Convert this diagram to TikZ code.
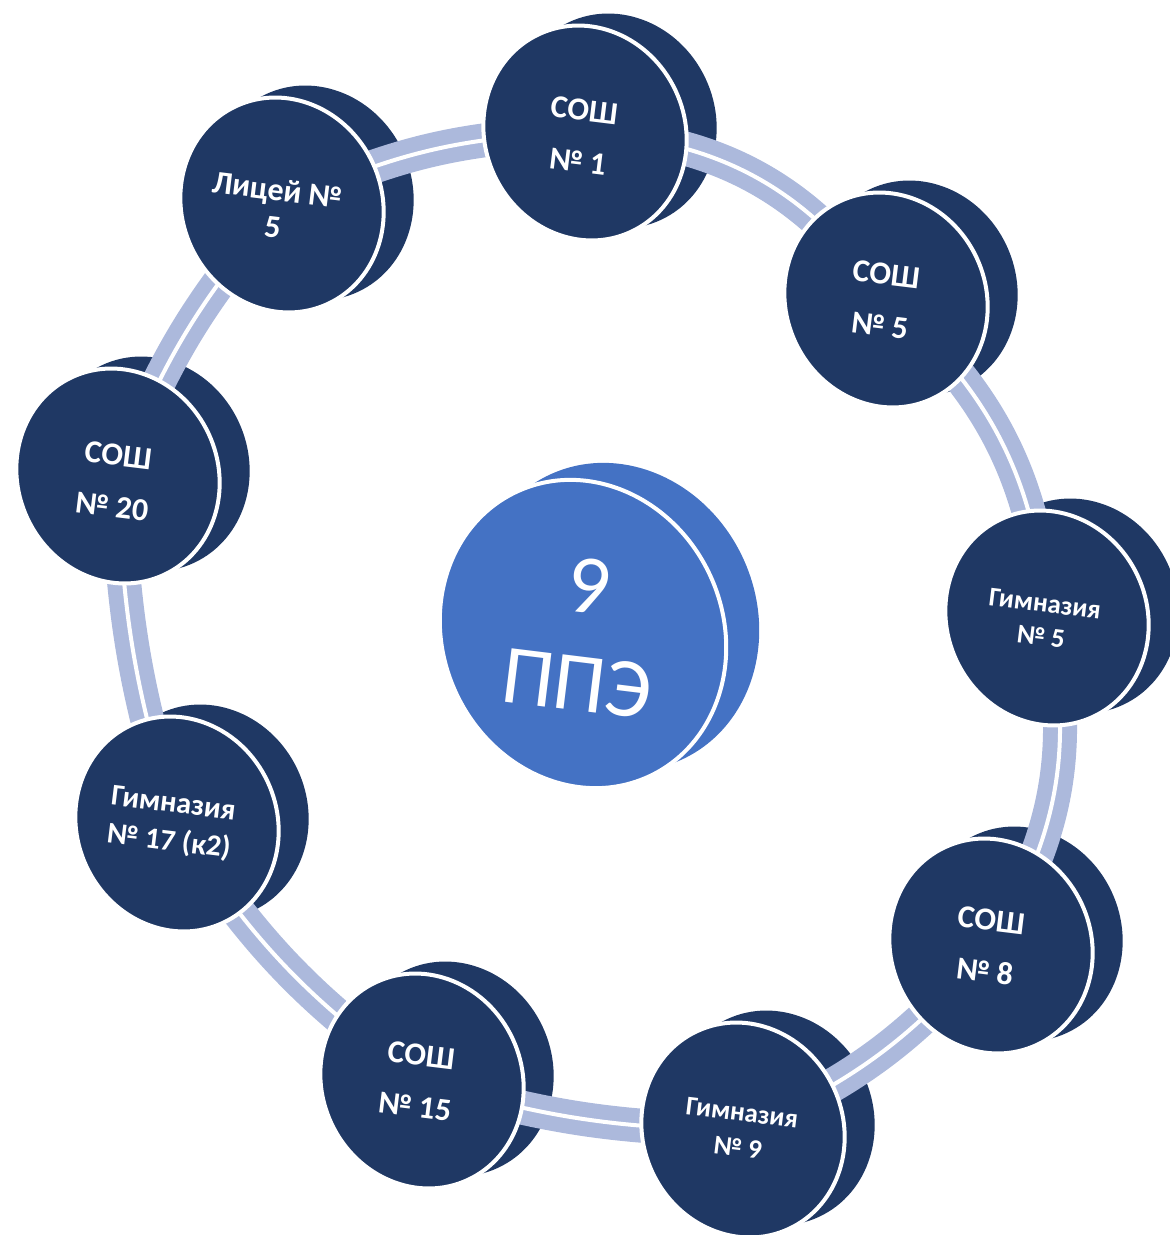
\documentclass[tikz,border=0pt]{standalone}
\usepackage{fontspec}
\setmainfont{Carlito}
\usetikzlibrary{shapes.geometric}
\definecolor{schoolblue}{HTML}{1F3864}
\definecolor{ppeblue}{HTML}{4472C4}
\definecolor{ringblue}{HTML}{ACB9DC}
\pgfdeclarelayer{back}
\pgfdeclarelayer{mid}
\pgfsetlayers{back,mid,main}

\begin{document}
\begin{tikzpicture}[x=0.5pt,y=-0.5pt,
  school/.style={ellipse, fill=schoolblue, draw=white, line width=2pt, inner sep=0pt,
    minimum width=100pt, minimum height=109pt, rotate=25},
  ppe/.style={school, fill=ppeblue, minimum width=140pt, minimum height=157pt},
  disctext/.style={text=white, align=center, rotate=-7, inner sep=0pt, font=\bfseries\fontsize{16}{26}\selectfont},
  ring/.style={draw=ringblue, line width=7.5pt, double=white, double distance=2pt}]
  \useasboundingbox (0,0) rectangle (1170,1235);

  % front faces
  \node[school] (sosh1) at (585,133) {};
  \node[school] (sosh5) at (886,300) {};
  \node[school] (gym5) at (1047,618) {};
  \node[school] (sosh8) at (991,946) {};
  \node[school] (gym9) at (743,1130) {};
  \node[school] (sosh15) at (422,1081) {};
  \node[school] (gym17) at (177,824) {};
  \node[school] (sosh20) at (118,476) {};
  \node[school] (lyc5) at (282,205) {};
  \node[ppe] (ppe) at (583,634) {};

  \node[disctext] (sosh1-text) at ([shift={(-4,3)}]sosh1) {СОШ\\№ 1};
  \node[disctext] (sosh5-text) at ([shift={(-3,0)}]sosh5) {СОШ\\№ 5};
  \node[disctext, font=\bfseries\fontsize{13.5}{16.5}\selectfont] (gym5-text) at ([shift={(-4,2)}]gym5) {Гимназия\\№ 5};
  \node[disctext] (sosh8-text) at ([shift={(-3,0)}]sosh8) {СОШ\\№ 8};
  \node[disctext, font=\bfseries\fontsize{13.5}{17.5}\selectfont] (gym9-text) at ([shift={(-3,0)}]gym9) {Гимназия\\№ 9};
  \node[disctext] (sosh15-text) at ([shift={(-4,0)}]sosh15) {СОШ\\№ 15};
  \node[disctext, font=\bfseries\fontsize{15}{19}\selectfont] (gym17-text) at ([shift={(-6,0)}]gym17) {Гимназия\\№ 17 (к2)};
  \node[disctext] (sosh20-text) at ([shift={(-3,5)}]sosh20) {СОШ\\№ 20};
  \node[disctext, font=\bfseries\fontsize{16}{18.5}\selectfont] (lyc5-text) at ([shift={(-7,3)}]lyc5) {Лицей №\\5};
  \node[disctext, font=\fontsize{42}{49}\selectfont] (ppe-text) at ([shift={(0,1)}]ppe) {9\\ППЭ};

  % back faces
  \begin{pgfonlayer}{back}
    \foreach \n in {sosh1,sosh5,gym5,sosh8,gym9,sosh15,gym17,sosh20,lyc5}
      \node[school, draw=none] (\n-back) at ([shift={(30,-12)}]\n) {};
    \node[ppe, draw=none] (ppe-back) at ([shift={(33,-17)}]ppe) {};
  \end{pgfonlayer}

  % ring
  \begin{pgfonlayer}{mid}
    \foreach \a/\b/\bend in {sosh1/sosh5/26, sosh5/gym5/22, gym5/sosh8/22, sosh8/gym9/13,
        gym9/sosh15/8, sosh15/gym17/11, gym17/sosh20/8, sosh20/lyc5/10, lyc5/sosh1/12}
      \draw[ring] (\a.center) to[bend left=\bend] (\b.center);
  \end{pgfonlayer}
\end{tikzpicture}
\end{document}
